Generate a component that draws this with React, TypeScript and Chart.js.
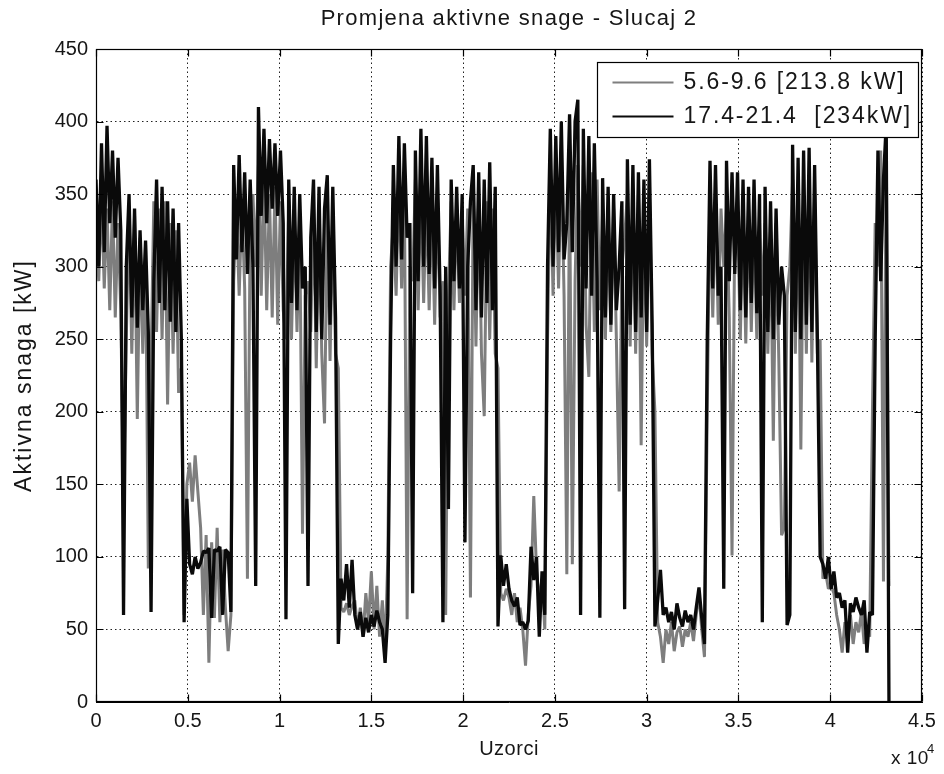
import React, { useEffect, useRef } from "react";
import { Chart, registerables } from "chart.js";

Chart.register(...registerables);

// sample spacing between stored points (samples)
const STEP = 150;

const TITLE = "Promjena aktivne snage - Slucaj 2";
const X_TITLE = "Uzorci";
const Y_TITLE = "Aktivna snaga [kW]";
const LEGEND_LABELS = ["5.6-9.6 [213.8 kW]", "17.4-21.4  [234kW]"];

const X_TICKS = [0, 5000, 10000, 15000, 20000, 25000, 30000, 35000, 40000, 45000];
const X_TICK_LABELS = ["0", "0.5", "1", "1.5", "2", "2.5", "3", "3.5", "4", "4.5"];
const Y_TICKS = [0, 50, 100, 150, 200, 250, 300, 350, 400, 450];

// series 1 (grey): 5.6-9.6 [213.8 kW]
const SERIES_GREY = [
  330, 290, 350, 285, 340, 270, 345, 265, 330, 270,
  140, 250, 340, 240, 335, 195, 320, 240, 315, 92,
  235, 345, 255, 340, 250, 345, 205, 330, 240, 325,
  213, 230, 60,
  150, 165, 138, 170, 145, 120, 60, 115, 27, 110, 58, 120, 55, 105, 65, 35, 60,
  290, 340, 280, 345, 285, 85, 330, 350, 300, 370,
  280, 365, 270, 350, 265, 355, 260, 345, 270, 250,
  340, 250, 335, 255, 330, 116, 280, 290, 255, 340,
  230, 335, 240, 192, 340, 235, 335, 240, 230,
  65, 62, 68, 60, 66, 70, 50, 65, 45, 75, 55, 90, 50, 80, 45, 70, 35,
  100, 300, 330, 280, 360, 285, 355, 57, 300, 290,
  360, 270, 355, 275, 350, 270, 345, 260, 350, 265,
  290, 60, 280, 345, 270, 340, 275, 335, 280, 340,
  72, 355, 245, 350, 240, 197, 345, 250, 340, 240,
  230,
  75, 70, 78, 72, 60, 75, 55, 65, 50, 25, 60, 80, 142, 90, 70, 85, 50,
  250, 370, 280, 365, 285, 375, 280, 88, 360, 95,
  290, 370, 300, 370, 260, 224, 365, 255, 360, 270,
  340, 250, 335, 255, 340, 250, 145, 300, 320, 350,
  245, 345, 240, 350, 177, 340, 245, 350, 240, 200,
  55, 45, 27, 50, 40, 55, 35, 48, 52, 38, 50, 45, 55, 42, 60, 75, 50, 31,
  200, 350, 265, 345, 260, 340, 300, 340, 265, 101,
  330, 340, 250, 335, 247, 340, 255, 335, 250, 330,
  280, 330, 240, 325, 180, 330, 235, 115, 120, 280,
  300, 360, 240, 355, 174, 350, 240, 360, 234, 350,
  240, 250,
  85, 89, 78, 80, 75, 60, 50, 34, 55, 45, 60, 40, 55, 48, 62, 40, 50, 45,
  200, 330, 300, 380, 83, 390, 80,
];

// series 2 (black): 17.4-21.4 [234kW]
const SERIES_BLACK = [
  360, 300, 385, 310, 397, 330, 380, 320, 375, 325,
  60, 300, 350, 265, 340, 258, 325, 270, 318, 255,
  62, 290, 360, 275, 355, 270, 345, 262, 340, 255,
  330, 250, 55,
  140, 95, 88, 100, 92, 96, 104, 103, 106, 58, 105, 104, 107, 60, 105, 103, 62,
  370, 305, 377, 310, 365, 295, 360, 300, 80, 410,
  335, 395, 330, 388, 340, 385, 335, 380, 330, 57,
  360, 275, 355, 270, 350, 285, 300, 80, 320, 360,
  255, 355, 250, 340, 363, 260, 355, 265, 40,
  85, 70, 95, 65, 98, 60, 50, 62, 45, 58, 48, 60, 52, 63, 55, 50, 27,
  60, 250, 370, 300, 390, 305, 385, 320, 330, 75,
  380, 290, 395, 300, 390, 295, 375, 285, 370, 280,
  55, 300, 133, 360, 290, 355, 285, 350, 110, 300,
  345, 370, 270, 365, 265, 360, 275, 372, 270, 355,
  52,
  101, 80, 95, 78, 70, 66, 72, 53, 55, 50, 56, 107, 84, 100, 45, 90, 60,
  300, 395, 300, 390, 310, 400, 305, 330, 405, 310,
  400, 415, 60, 395, 285, 390, 280, 385, 290, 58,
  361, 265, 355, 260, 350, 270, 300, 345, 64, 374,
  260, 370, 255, 365, 265, 360, 255, 374, 260, 52,
  70, 91, 60, 65, 55, 62, 50, 68, 58, 52, 63, 55, 60, 50, 65, 79, 58, 40,
  250, 373, 285, 370, 280, 300, 78, 373, 290, 365,
  295, 365, 270, 360, 265, 355, 275, 360, 268, 350,
  55, 355, 255, 345, 250, 340, 260, 300, 280, 53,
  60, 384, 255, 375, 250, 380, 260, 382, 255, 370,
  250, 100,
  95, 85, 100, 78, 90, 72, 75, 65, 70, 34, 68, 62, 72, 65, 60, 70, 34, 62,
  60, 250, 380, 290, 360, 398, 0,
];

const GREY = "#7e7e7e";
const BLACK = "#0a0a0a";
const TEXT = "#161616";
const FONT = "'Liberation Sans', Arial, Helvetica, sans-serif";

const decorPlugin = {
  id: "decor",
  afterDatasetsDraw(chart: any) {
    const { ctx, chartArea: a, scales } = chart;
    ctx.save();
    ctx.setLineDash([]);
    ctx.strokeStyle = "#000";
    ctx.lineWidth = 1.2;
    const L = Math.round(a.left) + 0.5;
    const R = Math.round(a.right) - 0.5;
    const T = Math.round(a.top) + 0.5;
    const B = Math.round(a.bottom) - 0.5;
    ctx.strokeRect(L, T, R - L, B - T);
    ctx.beginPath();
    for (const v of X_TICKS) {
      const px = Math.round(scales.x.getPixelForValue(v)) + 0.5;
      ctx.moveTo(px, B);
      ctx.lineTo(px, B - 7);
      ctx.moveTo(px, T);
      ctx.lineTo(px, T + 7);
    }
    for (const v of Y_TICKS) {
      const py = Math.round(scales.y.getPixelForValue(v)) + 0.5;
      ctx.moveTo(L, py);
      ctx.lineTo(L + 7, py);
      ctx.moveTo(R, py);
      ctx.lineTo(R - 7, py);
    }
    ctx.stroke();
    ctx.restore();
  },
  afterDraw(chart: any) {
    const { ctx, chartArea: a } = chart;
    ctx.save();
    ctx.fillStyle = TEXT;
    // title
    ctx.font = `22px ${FONT}`;
    (ctx as any).letterSpacing = "1.3px";
    ctx.textAlign = "center";
    ctx.textBaseline = "middle";
    ctx.fillText(TITLE, (a.left + a.right) / 2, 19);
    // x title
    ctx.font = `20px ${FONT}`;
    (ctx as any).letterSpacing = "0.5px";
    ctx.fillText(X_TITLE, (a.left + a.right) / 2, 749);
    // y title
    ctx.save();
    ctx.translate(25, (a.top + a.bottom) / 2);
    ctx.rotate(-Math.PI / 2);
    ctx.font = `23px ${FONT}`;
    (ctx as any).letterSpacing = "2px";
    ctx.fillText(Y_TITLE, 0, 0);
    ctx.restore();
    // exponent
    ctx.textAlign = "left";
    ctx.font = `19px ${FONT}`;
    (ctx as any).letterSpacing = "0.5px";
    ctx.fillText("x 10", 891, 759);
    ctx.font = `13px ${FONT}`;
    ctx.fillText("4", 927, 749);

    // legend
    const bw = 321;
    const bh = 75;
    const bx = Math.round(a.right - 4 - bw) + 0.5;
    const by = Math.round(a.top + 13) + 0.5;
    ctx.fillStyle = "#ffffff";
    ctx.fillRect(bx, by, bw, bh);
    ctx.strokeStyle = "#000";
    ctx.lineWidth = 1.2;
    ctx.setLineDash([]);
    ctx.strokeRect(bx, by, bw, bh);
    const colors = [GREY, BLACK];
    const rows = [by + 20, by + 54];
    ctx.font = `23px ${FONT}`;
    (ctx as any).letterSpacing = "1.9px";
    ctx.textBaseline = "middle";
    LEGEND_LABELS.forEach((lab, i) => {
      ctx.strokeStyle = colors[i];
      ctx.lineWidth = 1.8;
      ctx.beginPath();
      ctx.moveTo(bx + 15, rows[i]);
      ctx.lineTo(bx + 76, rows[i]);
      ctx.stroke();
      ctx.fillStyle = TEXT;
      ctx.fillText(lab, bx + 86, rows[i]);
    });
    ctx.restore();
  },
};

export default function App() {
  const ref = useRef<HTMLCanvasElement | null>(null);
  useEffect(() => {
    document.body.style.margin = "0";
    const canvas = ref.current;
    if (!canvas) return;
    const toPoints = (arr: number[]) => arr.map((v, i) => ({ x: i * STEP, y: v }));
    const tickFont = { family: FONT, size: 20 };
    const chart = new Chart(canvas, {
      type: "line",
      data: {
        datasets: [
          {
            label: LEGEND_LABELS[0],
            data: toPoints(SERIES_GREY),
            borderColor: GREY,
            borderWidth: 3.0,
            borderJoinStyle: "bevel",
            pointRadius: 0,
            tension: 0,
            order: 1,
          },
          {
            label: LEGEND_LABELS[1],
            data: toPoints(SERIES_BLACK),
            borderColor: BLACK,
            borderWidth: 3.3,
            borderJoinStyle: "bevel",
            pointRadius: 0,
            tension: 0,
            order: 0,
          },
        ],
      },
      options: {
        responsive: false,
        animation: false,
        layout: { padding: { left: 0, top: 49, right: 22, bottom: 0 } },
        plugins: {
          legend: { display: false },
          title: { display: false },
          tooltip: { enabled: false },
        },
        scales: {
          x: {
            type: "linear",
            min: 0,
            max: 45000,
            afterFit: (s: any) => {
              s.height = 72;
            },
            afterBuildTicks: (s: any) => {
              s.ticks = X_TICKS.map((v) => ({ value: v }));
            },
            ticks: {
              autoSkip: false,
              maxRotation: 0,
              padding: 7,
              color: TEXT,
              font: tickFont,
              callback: (_v: any, i: number) => X_TICK_LABELS[i],
            },
            grid: { color: "#222", lineWidth: 1, drawTicks: false },
            border: { display: true, color: "#000", dash: [1.5, 3] },
          },
          y: {
            type: "linear",
            min: 0,
            max: 450,
            afterFit: (s: any) => {
              s.width = 96;
            },
            afterBuildTicks: (s: any) => {
              s.ticks = Y_TICKS.map((v) => ({ value: v }));
            },
            ticks: {
              padding: 8,
              color: TEXT,
              font: tickFont,
              callback: (v: any) => String(v),
            },
            grid: { color: "#222", lineWidth: 1, drawTicks: false },
            border: { display: true, color: "#000", dash: [1.5, 3] },
          },
        },
      },
      plugins: [decorPlugin],
    });
    return () => chart.destroy();
  }, []);
  return (
    <div style={{ position: "absolute", left: 0, top: 0, width: 944, height: 774, background: "#fff" }}>
      <canvas ref={ref} width={944} height={774} style={{ display: "block", width: 944, height: 774 }} />
    </div>
  );
}
